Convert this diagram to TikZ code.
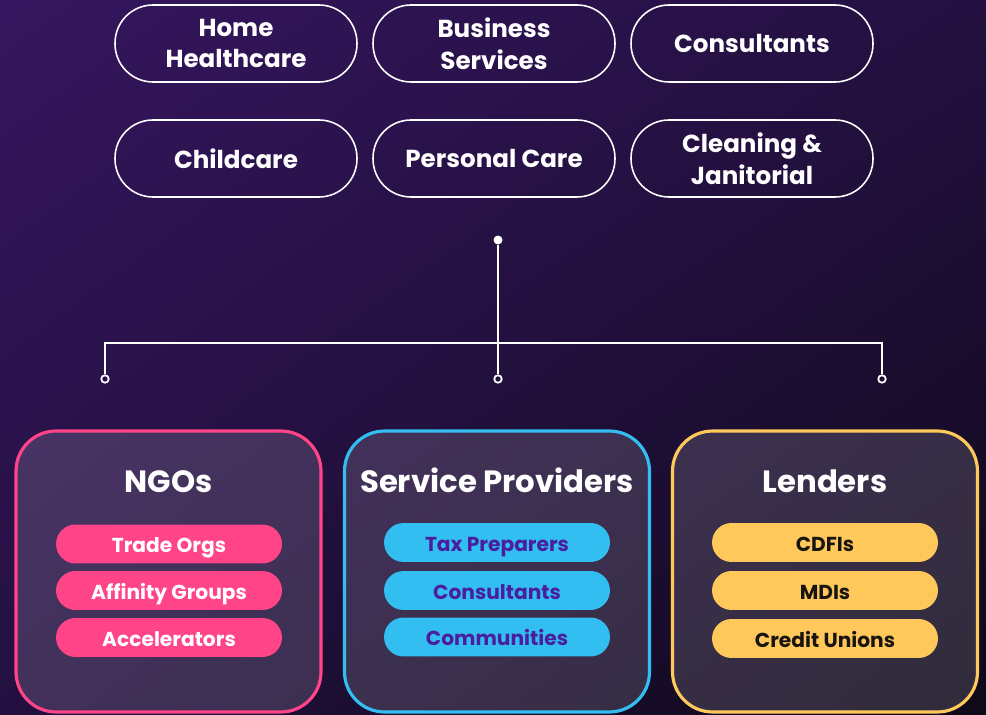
\documentclass[tikz,border=0pt]{standalone}
\usepackage{fontspec}
\setmainfont{Poppins}
\usetikzlibrary{positioning}
\usetikzlibrary{shadings}
\definecolor{bgTopLeft}{HTML}{36165F}
\definecolor{bgMiddle}{HTML}{231040}
\definecolor{bgBottomRight}{HTML}{0F0919}
\definecolor{ngoPink}{HTML}{FF4588}
\definecolor{providerBlue}{HTML}{32BEF0}
\definecolor{lenderYellow}{HTML}{FEC95A}
\definecolor{providerText}{HTML}{4A1E9E}
\definecolor{lenderText}{HTML}{1A1410}
\newcommand{\sectorPill}[3]{%%
  \node[sectorStyle] (#1) at (#2) {#3};
}
\newcommand{\groupBox}[4]{%%
  %% The rounded group frame.
  \node[boxStyle,draw=#3] (#1Box) at (#2,571.5) {};
  %% The group title.
  \node[titleStyle] (#1Title) at (#2,486) {#4};
}

\begin{document}
\begin{tikzpicture}[%%
  x=0.02cm,y=-0.02cm,%%
  sectorStyle/.style={draw=white,line width=0.9pt,rounded corners=0.76cm,minimum width=4.84cm,minimum height=1.54cm,align=center,text=white,font=\fontsize{14}{18}\selectfont\bfseries},%%
  boxStyle/.style={line width=1.8pt,rounded corners=0.8cm,fill=white,fill opacity=0.14,minimum width=6.1cm,minimum height=5.62cm},%%
  titleStyle/.style={text=white,text height=0.7em,text depth=0em,font=\fontsize{17.5}{20}\selectfont\bfseries},%%
  itemStyle/.style={rounded corners=0.39cm,minimum width=4.52cm,minimum height=0.78cm,inner sep=0pt,text height=0.7em,text depth=0em,font=\fontsize{11.5}{13}\selectfont\bfseries},%%
  lineStyle/.style={-,white,line width=1.1pt},%%
  dotStyle/.style={circle,inner sep=0pt,minimum size=0.18cm,fill=white},%%
  endStyle/.style={circle,inner sep=0pt,minimum size=0.15cm,draw=white,line width=1pt}%%
]
%%
%%
%% The background.
\shade[upper left=bgTopLeft,upper right=bgMiddle,lower left=bgMiddle,lower right=bgBottomRight] (0,0) rectangle (986,715);
\useasboundingbox (0,0) rectangle (986,715);
%% The sectors.
\sectorPill{homeHealth}{236,43.5}{Home\\Healthcare}
\sectorPill{business}{494,43.5}{Business\\Services}
\sectorPill{consult}{752,43.5}{Consultants}
\sectorPill{childcare}{236,158.5}{Childcare}
\sectorPill{personal}{494,158.5}{Personal Care}
\sectorPill{cleaning}{752,158.5}{Cleaning \&\\Janitorial}
%% The connector tree.
\node[dotStyle] (hub) at (498,240) {};
\coordinate (junction) at (498,343);
\node[endStyle] (ngoEnd) at (105,379) {};
\node[endStyle] (providerEnd) at (498,379) {};
\node[endStyle] (lenderEnd) at (882,379) {};
\draw[lineStyle] (hub) -- (junction);
\draw[lineStyle] (ngoEnd) |- (junction) -| (lenderEnd);
\draw[lineStyle] (junction) -- (providerEnd);
%% The groups.
\groupBox{ngo}{168.5}{ngoPink}{NGOs}
\groupBox{provider}{497}{providerBlue}{Service Providers}
\groupBox{lender}{825}{lenderYellow}{Lenders}
%% The NGO items.
\node[itemStyle,fill=ngoPink,text=white] (tradeOrgs) at (169,544) {\raisebox{-1.5pt}{Trade Orgs}};
\node[itemStyle,fill=ngoPink,text=white] (affinity) at (169,590.5) {\raisebox{-1.5pt}{Affinity Groups}};
\node[itemStyle,fill=ngoPink,text=white] (accelerators) at (169,637.5) {\raisebox{-1.5pt}{Accelerators}};
%% The service provider items.
\node[itemStyle,fill=providerBlue,text=providerText] (taxPrep) at (497,542.5) {\raisebox{-1.5pt}{Tax Preparers}};
\node[itemStyle,fill=providerBlue,text=providerText] (consultants) at (497,590.5) {\raisebox{-1.5pt}{Consultants}};
\node[itemStyle,fill=providerBlue,text=providerText] (communities) at (497,637) {\raisebox{-1.5pt}{Communities}};
%% The lender items.
\node[itemStyle,fill=lenderYellow,text=lenderText] (cdfis) at (825,542.5) {\raisebox{-1.5pt}{CDFIs}};
\node[itemStyle,fill=lenderYellow,text=lenderText] (mdis) at (825,590.5) {\raisebox{-1.5pt}{MDIs}};
\node[itemStyle,fill=lenderYellow,text=lenderText] (creditUnions) at (825,638.5) {\raisebox{-1.5pt}{Credit Unions}};
\end{tikzpicture}
\end{document}
